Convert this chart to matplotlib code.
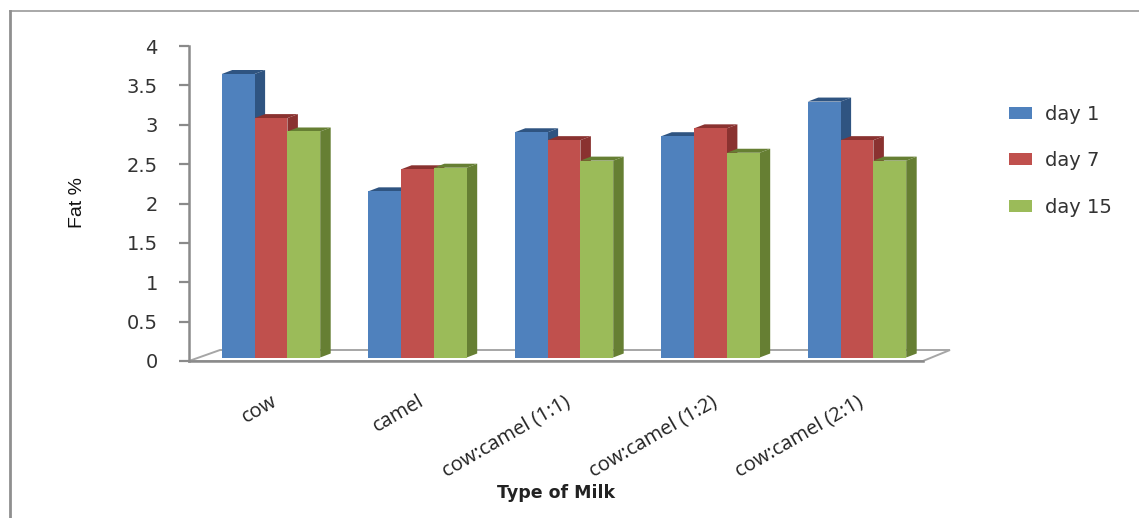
import matplotlib
matplotlib.use("Agg")
import matplotlib.pyplot as plt
from matplotlib.lines import Line2D
from matplotlib.patches import Polygon, Rectangle, Patch

categories = ["cow", "camel", "cow:camel (1:1)", "cow:camel (1:2)", "cow:camel (2:1)"]
day_1 = [3.60, 2.11, 2.86, 2.81, 3.25]
day_7 = [3.04, 2.39, 2.76, 2.91, 2.76]
day_15 = [2.87, 2.41, 2.50, 2.60, 2.50]
series_names = ["day 1", "day 7", "day 15"]
yticks = [0, 0.5, 1, 1.5, 2, 2.5, 3, 3.5, 4]
yticklabels = ["0", "0.5", "1", "1.5", "2", "2.5", "3", "3.5", "4"]

front = ["#4f81bd", "#c0504d", "#9bbb59"]
side = ["#2f5481", "#8a3230", "#667f33"]
GREY = "#8a8a8a"

W, H = 1139, 518
fig = plt.figure(figsize=(W / 100, H / 100), dpi=100, facecolor="white")

# Plot area in figure pixels
left, right, top, bottom = 189, 923, 46, 361
ax = fig.add_axes([left / W, 1 - bottom / H, (right - left) / W, (bottom - top) / H])
ax.set_ylim(0, 4)
cat_px = 146.5
ax.set_xlim((left - 271) / cat_px, (right - 271) / cat_px)
px_x = 1 / cat_px
px_y = 4 / (bottom - top)

bar_w = 32.8 * px_x
dx, dy = 10.5 * px_x, 4 * px_y
base = 3.5 * px_y

# Floor of the pseudo-3D plot, behind the bars
ax.add_patch(Polygon(
    [(ax.get_xlim()[0], 0),
     (ax.get_xlim()[0] + 31 * px_x, 11 * px_y),
     (ax.get_xlim()[1] + 27 * px_x, 11 * px_y),
     (ax.get_xlim()[1], 0)],
    closed=True, facecolor="white", edgecolor="#a6a6a6", lw=1.4,
    clip_on=False, zorder=1))

z = 2
for i in range(len(categories)):
    for s, values in enumerate([day_1, day_7, day_15]):
        x0 = i + (s - 1.5) * bar_w
        x1 = x0 + bar_w
        y1 = base + values[i]
        ax.add_patch(Polygon([(x1, base), (x1 + dx, base + dy), (x1 + dx, y1 + dy), (x1, y1)],
                             closed=True, facecolor=side[s], edgecolor="none",
                             clip_on=False, zorder=z))
        ax.add_patch(Polygon([(x0, y1), (x0 + dx, y1 + dy), (x1 + dx, y1 + dy), (x1, y1)],
                             closed=True, facecolor=side[s], edgecolor="none",
                             clip_on=False, zorder=z))
        ax.add_patch(Rectangle((x0, base), bar_w, values[i], facecolor=front[s],
                               edgecolor="none", clip_on=False, zorder=z + 0.5))
        z += 1

for name in ("top", "right"):
    ax.spines[name].set_visible(False)
for name in ("left", "bottom"):
    ax.spines[name].set_color(GREY)
    ax.spines[name].set_linewidth(1.8)
    ax.spines[name].set_zorder(1.5)

ax.set_yticks(yticks, yticklabels, fontsize=14, color="#333333", family="DejaVu Sans")
ax.tick_params(axis="y", length=7.5, width=1.6, color=GREY, pad=15)
ax.set_xticks(range(len(categories)), categories, rotation=30, ha="right",
              rotation_mode="anchor", fontsize=14.5, color="#222222", family="Open Sans")
ax.tick_params(axis="x", length=0, pad=22)

ax.set_facecolor("none")

fig.text(556 / W, 1 - 493 / H, "Type of Milk", ha="center", va="center",
         fontsize=12.5, fontweight="bold", color="#222222", family="DejaVu Sans")
fig.text(77 / W, 1 - 202 / H, "Fat %", rotation=90, ha="center", va="center",
         fontsize=14, color="#111111", family="Liberation Sans")

handles = [Patch(facecolor=c, edgecolor="none") for c in front]
fig.legend(handles, series_names, loc="upper left", bbox_to_anchor=(993 / W, 1 - 89 / H),
           frameon=False, fontsize=14, labelcolor="#333333", handlelength=1.2,
           handleheight=0.55, handletextpad=0.7, labelspacing=1.42, borderpad=0.3)

# Outer chart frame along the top and left edges
fig.add_artist(Line2D([10 / W, 1], [1 - 11 / H, 1 - 11 / H], color="#9a9a9a", lw=1.2))
fig.add_artist(Line2D([10 / W, 10 / W], [0, 1 - 11 / H], color="#8f8f8f", lw=2.0))

fig.savefig("out.png", dpi=100, facecolor="white")
